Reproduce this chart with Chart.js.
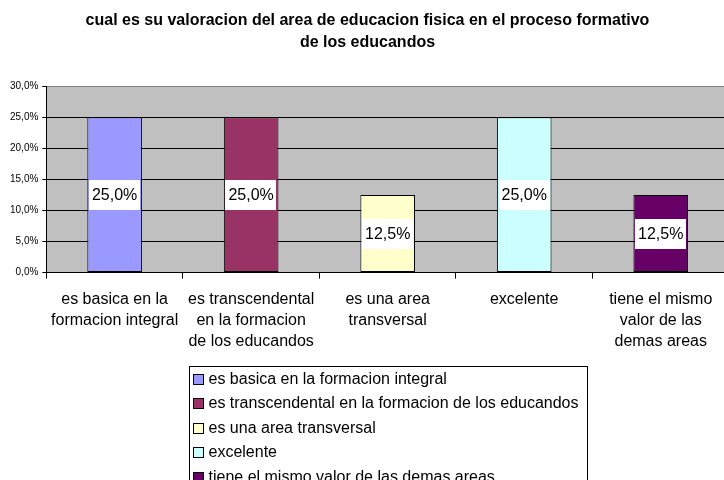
<!DOCTYPE html>
<html>
<head>
<meta charset="utf-8">
<script src="https://cdn.jsdelivr.net/npm/chart.js@4"></script>
<style>
  body { margin: 0; background: #fff; overflow: hidden; }
  #wrap { width: 738px; height: 480px; }
</style>
</head>
<body>
<div id="wrap"><canvas id="myChart"></canvas></div>
<script>
// data
const titleLines = ['cual es su valoracion del area de educacion fisica en el proceso formativo', 'de los educandos'];
const axisLabels = [
    ['es basica en la', 'formacion integral'],
    ['es transcendental', 'en la formacion', 'de los educandos'],
    ['es una area', 'transversal'],
    ['excelente'],
    ['tiene el mismo', 'valor de las', 'demas areas']
];
const legendNames = [
    'es basica en la formacion integral',
    'es transcendental en la formacion de los educandos',
    'es una area transversal',
    'excelente',
    'tiene el mismo valor de las demas areas'
];
const values = [0.25, 0.25, 0.125, 0.25, 0.125];
const barColors = ['#9999FF', '#993366', '#FFFFCC', '#CCFFFF', '#660066'];

const FONT = 'Liberation Sans, Arial, sans-serif';

const pct = (v) => (v * 100).toFixed(1).replace('.', ',') + '%';

// gray plot area
const plotBg = {
    id: 'plotBg',
    beforeDraw(chart) {
        const { ctx, chartArea: a } = chart;
        ctx.save();
        ctx.fillStyle = '#C0C0C0';
        ctx.fillRect(a.left, a.top, a.right - a.left, a.bottom - a.top);
        ctx.restore();
    }
};

// white boxed labels in the middle of each bar
const barLabels = {
    id: 'barLabels',
    afterDatasetsDraw(chart) {
        const { ctx } = chart;
        const meta = chart.getDatasetMeta(0);
        const y = chart.scales.y;
        ctx.save();
        ctx.font = '16px ' + FONT;
        ctx.textAlign = 'center';
        ctx.textBaseline = 'middle';
        meta.data.forEach((bar, i) => {
            const txt = pct(values[i]);
            const cy = y.getPixelForValue(values[i] / 2);
            const w = ctx.measureText(txt).width + 6;
            const h = 30;
            ctx.fillStyle = '#fff';
            ctx.fillRect(Math.round(bar.x - w / 2), Math.round(cy - h / 2), Math.round(w), h);
            ctx.fillStyle = '#000';
            ctx.fillText(txt, bar.x, cy + 1);
        });
        ctx.restore();
    }
};

// boxed vertical legend under the axis labels
const boxLegend = {
    id: 'boxLegend',
    afterDraw(chart) {
        const { ctx, chartArea: a } = chart;
        ctx.save();
        ctx.font = '16px ' + FONT;
        let maxW = 0;
        legendNames.forEach(n => { maxW = Math.max(maxW, ctx.measureText(n).width); });
        const rowH = 24.5;
        const boxW = Math.round(maxW + 28);
        const left = Math.round((a.left + a.right) / 2 - boxW / 2) + 0.5;
        const top = Math.round(a.bottom + 93) + 0.5;
        ctx.fillStyle = '#fff';
        ctx.fillRect(left, top, boxW, rowH * legendNames.length + 6);
        ctx.strokeStyle = '#000';
        ctx.lineWidth = 1;
        ctx.strokeRect(left, top, boxW, rowH * legendNames.length + 6);
        ctx.textBaseline = 'middle';
        ctx.textAlign = 'left';
        legendNames.forEach((n, i) => {
            const cy = top + 12 + i * rowH;
            ctx.fillStyle = barColors[i];
            ctx.fillRect(left + 4, Math.round(cy - 5) + 0.5, 10, 10);
            ctx.strokeRect(left + 4, Math.round(cy - 5) + 0.5, 10, 10);
            ctx.fillStyle = '#000';
            ctx.fillText(n, left + 19, cy + 1);
        });
        ctx.restore();
    }
};

const ctx = document.getElementById('myChart');

let myChart = new Chart(ctx, {
    type: 'bar',
    data: {
        labels: axisLabels,
        datasets: [{
            data: values,
            backgroundColor: barColors,
            borderColor: '#000',
            borderWidth: 1,
            borderSkipped: false,
            barPercentage: 0.4,
            categoryPercentage: 1
        }]
    },
    options: {
        responsive: true,
        maintainAspectRatio: false,
        animation: false,
        layout: {
            padding: { left: 6, right: 9, top: 0, bottom: 117 }
        },
        plugins: {
            legend: { display: false },
            tooltip: { enabled: false },
            title: {
                display: true,
                text: titleLines,
                color: '#000',
                font: { family: FONT, size: 16, weight: 'bold', lineHeight: 1.35 },
                padding: { top: 10, bottom: 33 }
            }
        },
        scales: {
            y: {
                min: 0,
                max: 0.3,
                ticks: {
                    stepSize: 0.05,
                    color: '#000',
                    font: { family: FONT, size: 10 },
                    padding: 4,
                    callback: (v) => pct(v)
                },
                grid: {
                    color: (c) => c.tick && Math.abs(c.tick.value - 0.3) < 1e-9 ? '#808080' : '#000',
                    tickColor: '#000',
                    tickLength: 4
                },
                border: { color: '#000' }
            },
            x: {
                ticks: {
                    color: '#000',
                    font: { family: FONT, size: 16, lineHeight: 1.3 },
                    padding: 11,
                    maxRotation: 0,
                    autoSkip: false
                },
                grid: {
                    offset: true,
                    drawOnChartArea: false,
                    color: '#000',
                    tickLength: 6
                },
                border: { color: '#000' }
            }
        }
    },
    plugins: [plotBg, barLabels, boxLegend]
});
</script>
</body>
</html>
